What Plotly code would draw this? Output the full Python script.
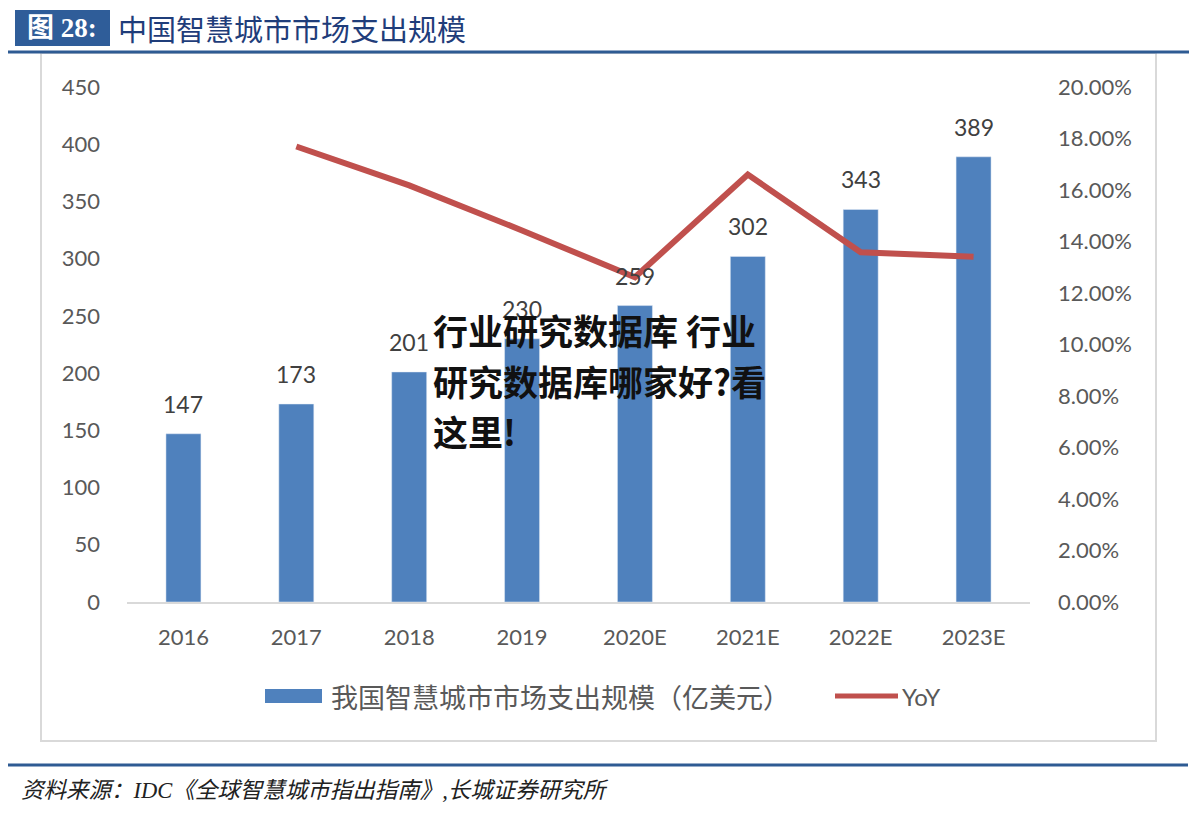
import plotly.graph_objects as go

categories = ["2016", "2017", "2018", "2019", "2020E", "2021E", "2022E", "2023E"]
spend = [147, 173, 201, 230, 259, 302, 343, 389]
yoy_years = ["2017", "2018", "2019", "2020E", "2021E", "2022E", "2023E"]
yoy = [0.1769, 0.1618, 0.1443, 0.1261, 0.1660, 0.1358, 0.1341]
left_ticks = list(range(0, 451, 50))
right_ticks = [i / 100 for i in range(0, 21, 2)]

OFF = 8                      # page body margin
W, H = 1197 - OFF, 816 - OFF
L, R, T, B = 127, 1030, 87, 602   # plot area in page pixels

def px(x):
    return (x - L) / (R - L)

def py(y):
    return (B - y) / (B - T)

BAR = "#4f81bd"
RED = "#c0504d"
NAVY = "#2e5b93"
TXT = "#595959"
FONT = "Lato, 'Noto Sans CJK SC', sans-serif"
CJK = "'Noto Sans CJK SC', sans-serif"

fig = go.Figure()
fig.add_trace(go.Bar(x=categories, y=spend, marker_color=BAR, width=0.31,
                     name="我国智慧城市市场支出规模（亿美元）", showlegend=False))
fig.add_trace(go.Scatter(x=yoy_years, y=yoy, yaxis="y2", mode="lines",
                         line=dict(color=RED, width=6), name="YoY", showlegend=False))

ann = []
for i, v in enumerate(spend):
    ann.append(dict(x=i, y=v, xref="x", yref="y", text=str(v), showarrow=False,
                    yanchor="bottom", yshift=14, font=dict(size=23, color="#404040", family=FONT)))

shapes = []
shapes.append(dict(type="line", xref="paper", yref="paper", x0=px(7), x1=px(1190),
                   y0=py(52), y1=py(52), line=dict(color=NAVY, width=3)))
shapes.append(dict(type="rect", xref="paper", yref="paper", x0=px(41), x1=px(1156),
                   y0=py(53), y1=py(741), line=dict(color="#d9d9d9", width=2), layer="below"))
shapes.append(dict(type="line", xref="paper", yref="paper", x0=px(7), x1=px(1188),
                   y0=py(765), y1=py(765), line=dict(color=NAVY, width=3)))
shapes.append(dict(type="rect", xref="paper", yref="paper", x0=px(15), x1=px(110),
                   y0=py(10), y1=py(46), fillcolor="#2f5d99", line=dict(width=0)))
shapes.append(dict(type="rect", xref="paper", yref="paper", x0=px(265), x1=px(322),
                   y0=py(689), y1=py(703), fillcolor=BAR, line=dict(width=0)))
shapes.append(dict(type="line", xref="paper", yref="paper", x0=px(835), x1=px(898),
                   y0=py(696), y1=py(696), line=dict(color=RED, width=5)))

ann.append(dict(x=px(62), y=py(28), xref="paper", yref="paper", text="<b>图 28:</b>",
                showarrow=False, xanchor="center", yanchor="middle",
                font=dict(size=27, color="white", family="'Liberation Serif', 'Noto Sans CJK SC', serif")))
ann.append(dict(x=px(116), y=py(28), xref="paper", yref="paper", text="中国智慧城市市场支出规模",
                showarrow=False, xanchor="left", yanchor="middle",
                font=dict(size=29, color="#1f3d7a", family=CJK)))
ann.append(dict(x=px(329), y=py(696), xref="paper", yref="paper", text="我国智慧城市市场支出规模（亿美元）",
                showarrow=False, xanchor="left", yanchor="middle",
                font=dict(size=27, color=TXT, family=CJK)))
ann.append(dict(x=px(900), y=py(696), xref="paper", yref="paper", text="YoY",
                showarrow=False, xanchor="left", yanchor="middle",
                font=dict(size=24, color=TXT, family=FONT)))
ann.append(dict(x=px(19), y=py(790), xref="paper", yref="paper",
                text="<i>资料来源：IDC《全球智慧城市指出指南》,长城证券研究所</i>",
                showarrow=False, xanchor="left", yanchor="middle",
                font=dict(size=22.5, color="#222222", family="'Liberation Serif', 'Noto Sans CJK SC', serif")))
for txt, yy in [("行业研究数据库 行业", 329), ("研究数据库哪家好?看", 380), ("这里!", 430)]:
    ann.append(dict(x=px(431), y=py(yy), xref="paper", yref="paper", text="<b>" + txt + "</b>",
                    showarrow=False, xanchor="left", yanchor="middle",
                    font=dict(size=35, color="#111111", family=CJK, weight=900)))

fig.update_layout(
    width=W, height=H,
    margin=dict(l=L - OFF, r=W - (R - OFF), t=T - OFF, b=H - (B - OFF), pad=0, autoexpand=False),
    paper_bgcolor="white", plot_bgcolor="white",
    font=dict(family=FONT, color=TXT, size=22),
    xaxis=dict(type="category", range=[-0.5, 7.5], showline=True, linecolor="#d9d9d9",
               linewidth=2, showgrid=False, ticks="", tickfont=dict(size=22, color=TXT),
               ticklabelstandoff=15),
    yaxis=dict(range=[0, 450], tickvals=left_ticks, showgrid=False, zeroline=False,
               showline=False, ticks="", tickfont=dict(size=22, color=TXT), ticklabelstandoff=26),
    yaxis2=dict(range=[0, 0.20], tickvals=right_ticks, tickformat=".2%", overlaying="y",
                side="right", showgrid=False, zeroline=False, showline=False, ticks="",
                tickfont=dict(size=22, color=TXT), ticklabelstandoff=27),
    shapes=shapes, annotations=ann, showlegend=False,
)
fig.write_html("out.html")
